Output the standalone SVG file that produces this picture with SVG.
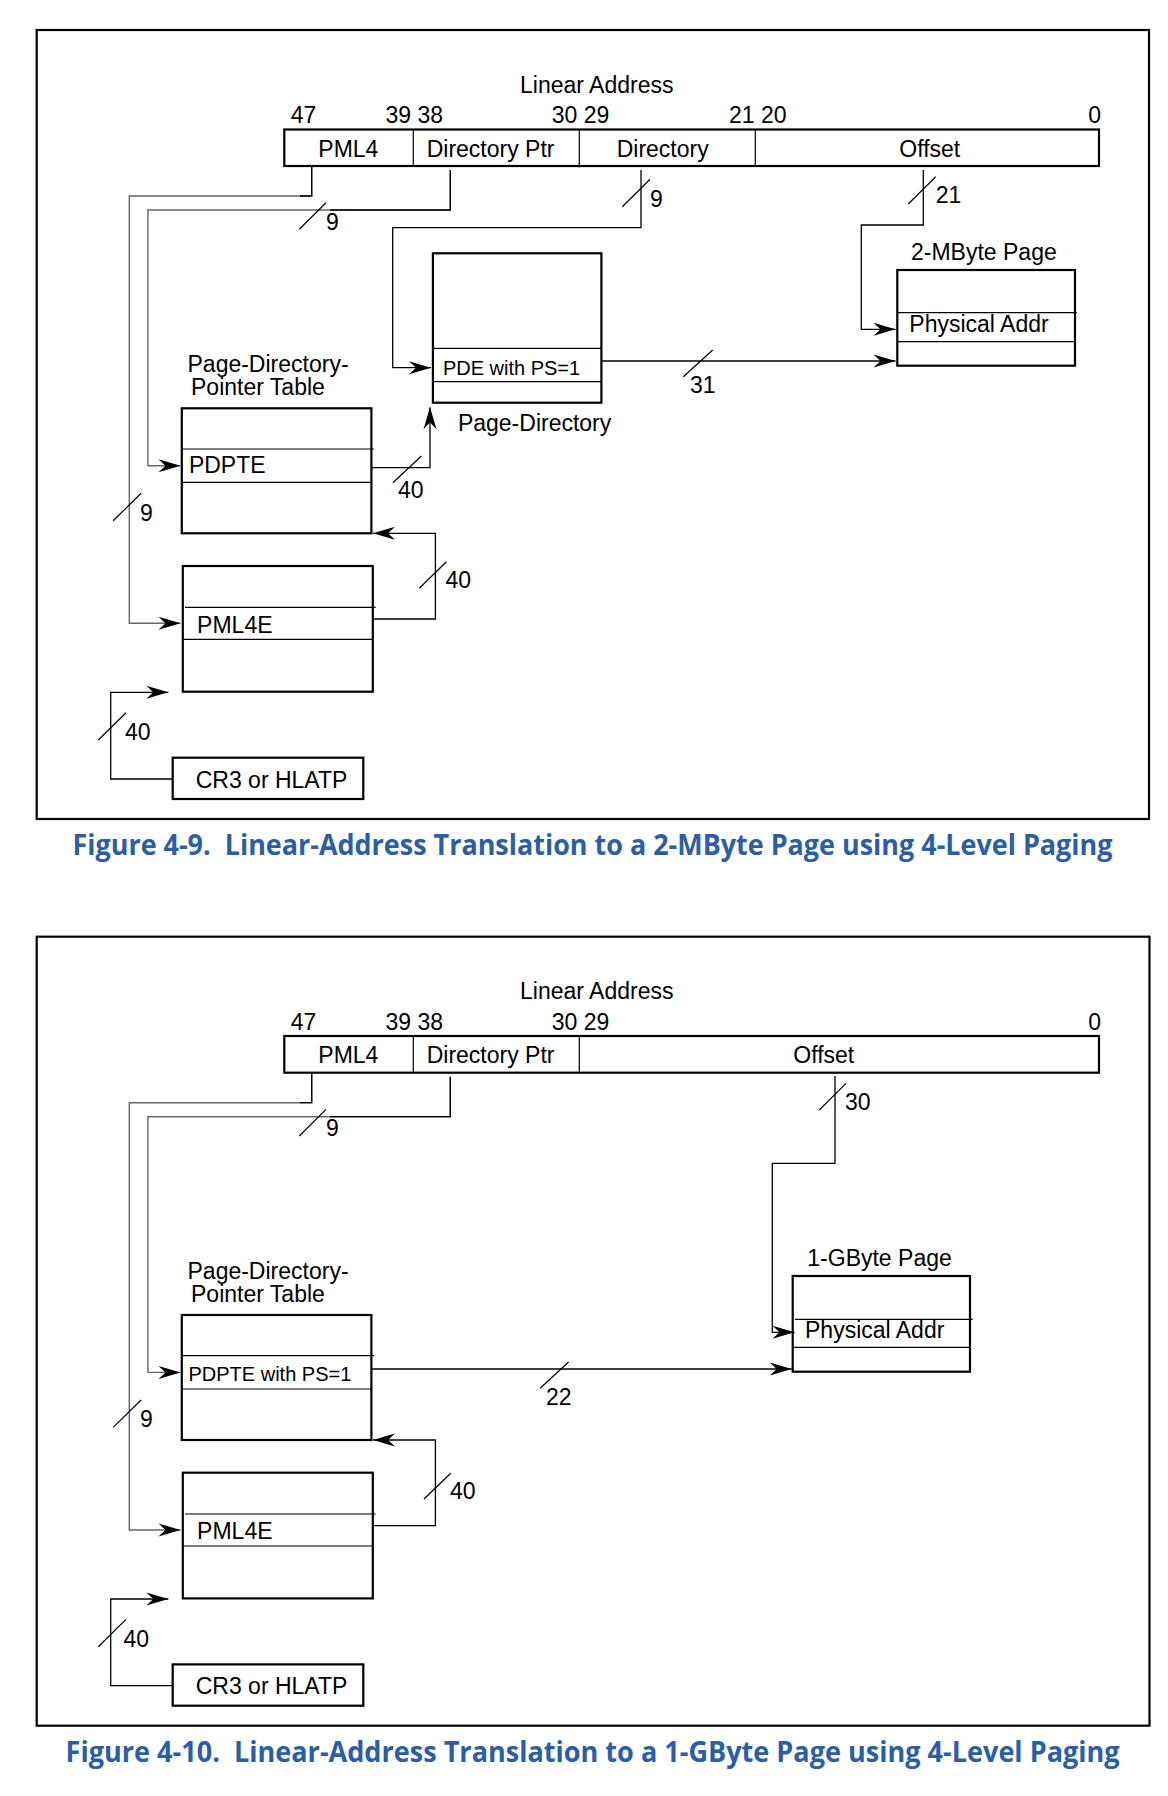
<svg xmlns="http://www.w3.org/2000/svg" width="1168" height="1796" viewBox="0 0 1168 1796">
<style>
.t{font-family:"Liberation Sans",Arial,sans-serif;font-size:23px;fill:#000}
.s{font-family:"Liberation Sans",Arial,sans-serif;font-size:20px;fill:#000}
.box{fill:none;stroke:#000;stroke-width:2.2}
.row{stroke:#000;stroke-width:1.2;fill:none}
.c{fill:none;stroke:#000;stroke-width:1.3}
.g{fill:none;stroke:#666;stroke-width:1.4}
.sl{stroke:#000;stroke-width:1.2}
.frame{fill:none;stroke:#000;stroke-width:2.2}
.cap{font-family:"Open Sans","Noto Sans",sans-serif;font-weight:700;font-size:29px;fill:#2b5ea4}
</style>
<defs>
<marker id="ah" viewBox="-24 -8 26 16" markerWidth="26" markerHeight="16" refX="0" refY="0" markerUnits="userSpaceOnUse" orient="auto">
<path d="M0,0 L-22,-6.5 L-15,0 L-22,6.5 Z" fill="#000"/>
</marker>
</defs>

<!-- ================= Figure 4-9 ================= -->
<g id="fig1">
<rect class="frame" x="36.7" y="30" width="1112.3" height="789"/>
<g id="f1-linear-address">
<text class="t" x="520" y="92.7">Linear Address</text>
<text class="t" x="290.7" y="123.3">47</text>
<text class="t" x="385.5" y="123.3">39 38</text>
<text class="t" x="551.7" y="123.3">30 29</text>
<text class="t" x="729" y="123.3">21 20</text>
<text class="t" x="1088.3" y="123.3">0</text>
<rect class="box" x="284.3" y="129.5" width="814.7" height="36.5"/>
<line class="row" x1="413.3" y1="129.5" x2="413.3" y2="166"/>
<line class="row" x1="579.3" y1="129.5" x2="579.3" y2="167.5"/>
<line class="row" x1="755.3" y1="129.5" x2="755.3" y2="166"/>
<text class="t" x="318.3" y="156.5">PML4</text>
<text class="t" x="426.7" y="156.5">Directory Ptr</text>
<text class="t" x="616.7" y="156.5">Directory</text>
<text class="t" x="899.3" y="156.5">Offset</text>
</g>
<g id="f1-page-directory">
<rect class="box" x="432.9" y="253.3" width="168.5" height="149.4"/>
<line class="row" x1="432.9" y1="348.3" x2="601.4" y2="348.3"/>
<line class="row" x1="432.9" y1="381.7" x2="601.4" y2="381.7"/>
<text class="s" x="442.9" y="375">PDE with PS=1</text>
<text class="t" x="457.9" y="431">Page-Directory</text>
</g>
<g id="f1-page">
<text class="t" x="911" y="260">2-MByte Page</text>
<rect class="box" x="897.3" y="270" width="177.7" height="95.7"/>
<line class="row" x1="897.3" y1="312.7" x2="1076.7" y2="312.7"/>
<line class="row" x1="897.3" y1="341.7" x2="1075" y2="341.7"/>
<text class="t" x="909.3" y="331.7">Physical Addr</text>
</g>
<g id="f1-pdpt">
<text class="t" x="187.5" y="372">Page-Directory-</text>
<text class="t" x="191" y="395">Pointer Table</text>
<rect class="box" x="181.8" y="408.3" width="189.6" height="125"/>
<line class="row" x1="181.8" y1="449" x2="374" y2="449"/>
<line class="row" x1="181.8" y1="482.3" x2="371.4" y2="482.3"/>
<text class="t" x="188.9" y="472.7">PDPTE</text>
</g>
<g id="f1-pml4">
<rect class="box" x="182.8" y="566" width="190" height="125.7"/>
<line class="row" x1="185" y1="607.3" x2="375.7" y2="607.3"/>
<line class="row" x1="182.8" y1="639.3" x2="372.8" y2="639.3"/>
<text class="t" x="197.1" y="632.7">PML4E</text>
</g>
<g id="f1-cr3">
<rect class="box" x="172.7" y="757.7" width="190.6" height="41.3"/>
<text class="t" x="195.7" y="787.7">CR3 or HLATP</text>
</g>
<g id="f1-connectors">
<path class="g" d="M311.7,166 V196 H129.3 V623.3 H180.5" marker-end="url(#ah)"/>
<path class="c" d="M311.7,166 V196 H300"/>
<path class="g" d="M450.3,170 V210 H147.9 V465.7 H180.5" marker-end="url(#ah)"/>
<path class="c" d="M450.3,170 V210 H330"/>
<path class="c" d="M641,170 V227.7 H392.7 V367.7 H431" marker-end="url(#ah)"/>
<path class="c" d="M923.3,170 V225 H861.3 V329.3 H895.5" marker-end="url(#ah)"/>
<path class="c" d="M601.4,361 H895.5" marker-end="url(#ah)"/>
<path class="c" d="M371.4,467.7 H430 V407.3" marker-end="url(#ah)"/>
<path class="c" d="M372.8,619 H435.4 V533.3 H373" marker-end="url(#ah)"/>
<path class="c" d="M172.7,779 H110.7 V692.3 H168.3" marker-end="url(#ah)"/>
<line class="sl" x1="299.3" y1="229.3" x2="326" y2="202.7"/>
<line class="sl" x1="622.3" y1="206.7" x2="650" y2="179.3"/>
<line class="sl" x1="908.3" y1="204" x2="935.7" y2="176.7"/>
<line class="sl" x1="683.3" y1="376.7" x2="712.7" y2="350"/>
<line class="sl" x1="113.2" y1="520.7" x2="141.1" y2="493.3"/>
<line class="sl" x1="392.9" y1="482.7" x2="421.4" y2="456"/>
<line class="sl" x1="419.3" y1="588.3" x2="446.4" y2="561.7"/>
<line class="sl" x1="98.3" y1="740" x2="126" y2="712.7"/>
<text class="t" x="326" y="230">9</text>
<text class="t" x="650" y="206.7">9</text>
<text class="t" x="935.7" y="203.3">21</text>
<text class="t" x="690" y="393">31</text>
<text class="t" x="140" y="520.7">9</text>
<text class="t" x="397.9" y="498.3">40</text>
<text class="t" x="445.4" y="588.3">40</text>
<text class="t" x="125" y="740">40</text>
</g>
<text class="cap" transform="scale(0.8,1)" x="90.6" y="855" textLength="1300" lengthAdjust="spacingAndGlyphs" xml:space="preserve">Figure 4-9.  Linear-Address Translation to a 2-MByte Page using 4-Level Paging</text>
</g>

<!-- ================= Figure 4-10 ================= -->
<g id="fig2">
<rect class="frame" x="36.7" y="936.7" width="1112.8" height="789"/>
<g id="f2-linear-address">
<text class="t" x="520" y="999.4">Linear Address</text>
<text class="t" x="290.7" y="1030">47</text>
<text class="t" x="385.5" y="1030">39 38</text>
<text class="t" x="551.7" y="1030">30 29</text>
<text class="t" x="1088.3" y="1029.5">0</text>
<rect class="box" x="284.3" y="1036" width="814.7" height="36.7"/>
<line class="row" x1="413.3" y1="1036" x2="413.3" y2="1072.7"/>
<line class="row" x1="579.3" y1="1036" x2="579.3" y2="1072.7"/>
<text class="t" x="318.3" y="1063">PML4</text>
<text class="t" x="426.7" y="1063">Directory Ptr</text>
<text class="t" x="793.3" y="1062.7">Offset</text>
</g>
<g id="f2-page">
<text class="t" x="807.3" y="1266">1-GByte Page</text>
<rect class="box" x="792.7" y="1276" width="177.3" height="95.7"/>
<line class="row" x1="795" y1="1319.3" x2="972.7" y2="1319.3"/>
<line class="row" x1="792.7" y1="1347.3" x2="970" y2="1347.3"/>
<text class="t" x="805" y="1338.3">Physical Addr</text>
</g>
<g id="f2-pdpt">
<text class="t" x="187.5" y="1278.7">Page-Directory-</text>
<text class="t" x="191" y="1301.7">Pointer Table</text>
<rect class="box" x="181.8" y="1315" width="189.6" height="125"/>
<line class="row" x1="181.8" y1="1355.7" x2="374" y2="1355.7"/>
<line class="row" x1="181.8" y1="1389" x2="371.4" y2="1389"/>
<text class="s" x="188.5" y="1380.6">PDPTE with PS=1</text>
</g>
<g id="f2-pml4">
<rect class="box" x="182.8" y="1472.7" width="190" height="125.7"/>
<line class="row" x1="185" y1="1514" x2="375.7" y2="1514"/>
<line class="row" x1="182.8" y1="1546" x2="372.8" y2="1546"/>
<text class="t" x="197.1" y="1539.4">PML4E</text>
</g>
<g id="f2-cr3">
<rect class="box" x="172.7" y="1664.4" width="190.6" height="41.3"/>
<text class="t" x="195.7" y="1694.4">CR3 or HLATP</text>
</g>
<g id="f2-connectors">
<path class="g" d="M311.7,1072.7 V1102.7 H129.3 V1530 H180.5" marker-end="url(#ah)"/>
<path class="c" d="M311.7,1072.7 V1102.7 H300"/>
<path class="g" d="M450.3,1076.7 V1116.7 H147.9 V1372.4 H180.5" marker-end="url(#ah)"/>
<path class="c" d="M450.3,1076.7 V1116.7 H330"/>
<path class="c" d="M835,1076 V1163.3 H772.3 V1332.3 H794.5" marker-end="url(#ah)"/>
<path class="c" d="M371.4,1369 H791.7" marker-end="url(#ah)"/>
<path class="c" d="M372.8,1525.7 H435.4 V1440 H373" marker-end="url(#ah)"/>
<path class="c" d="M172.7,1685.7 H110.7 V1599 H168.3" marker-end="url(#ah)"/>
<line class="sl" x1="299.3" y1="1136" x2="326" y2="1109.4"/>
<line class="sl" x1="819.3" y1="1110" x2="846" y2="1083.3"/>
<line class="sl" x1="540.2" y1="1388.2" x2="568.6" y2="1362"/>
<line class="sl" x1="113.2" y1="1427.4" x2="141.1" y2="1400"/>
<line class="sl" x1="424" y1="1499" x2="451" y2="1473"/>
<line class="sl" x1="98.3" y1="1646.7" x2="126" y2="1619.4"/>
<text class="t" x="326" y="1136">9</text>
<text class="t" x="845" y="1110">30</text>
<text class="t" x="546" y="1404.6">22</text>
<text class="t" x="140" y="1427.4">9</text>
<text class="t" x="450" y="1499">40</text>
<text class="t" x="123.5" y="1646.7">40</text>
</g>
<text class="cap" transform="scale(0.8,1)" x="82" y="1762" textLength="1317.5" lengthAdjust="spacingAndGlyphs" xml:space="preserve">Figure 4-10.  Linear-Address Translation to a 1-GByte Page using 4-Level Paging</text>
</g>
</svg>
